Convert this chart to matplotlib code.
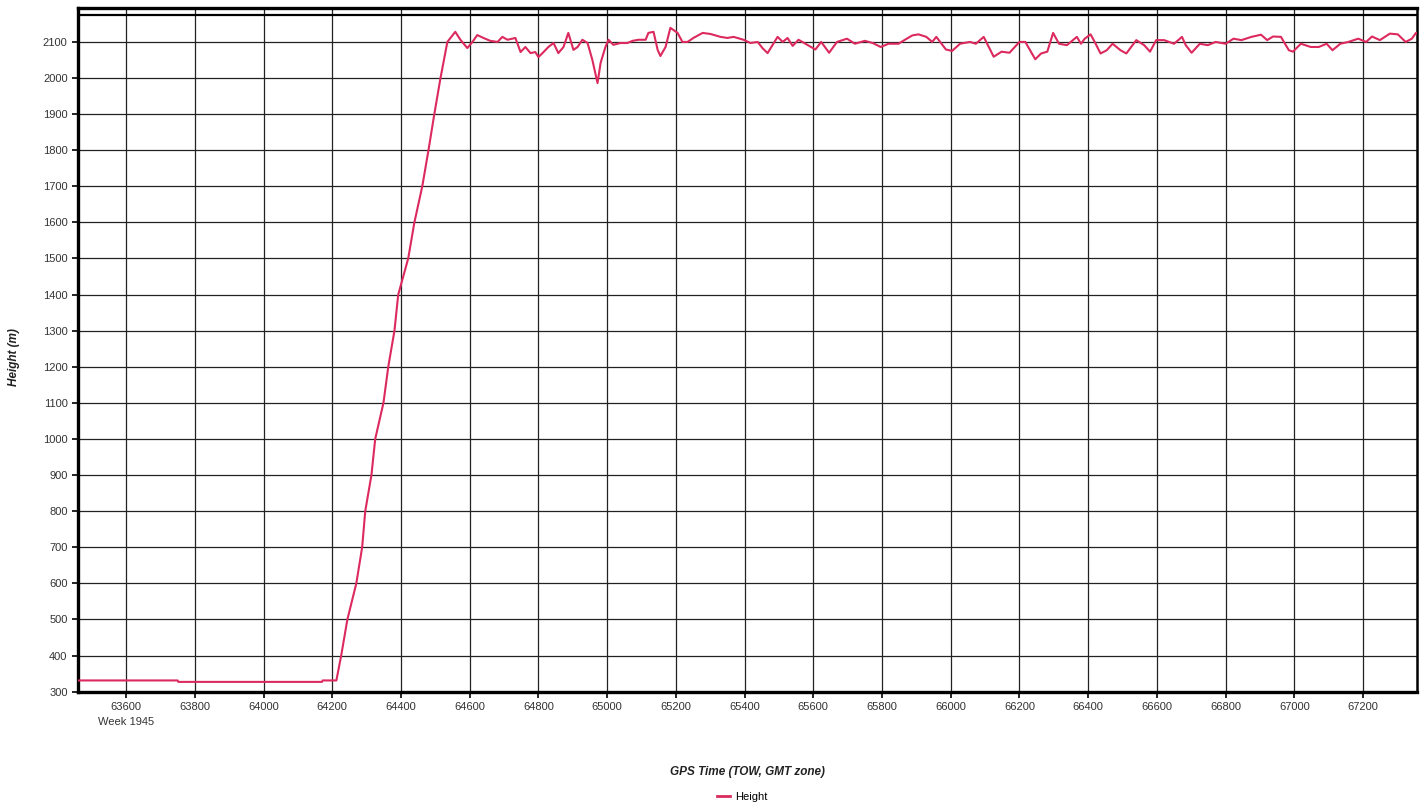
import matplotlib
matplotlib.use("Agg")
import matplotlib.pyplot as plt
import matplotlib.transforms as mtransforms
from matplotlib.lines import Line2D

# GPS time of week (s) and height (m)
tow = [63460, 63750, 63752, 64170, 64172, 64212, 64226, 64244, 64270, 64287,
       64296, 64314, 64325, 64349, 64363, 64381, 64392, 64421, 64439, 64462,
       64480, 64497, 64515, 64535, 64558, 64573, 64593, 64608, 64622, 64640,
       64660, 64681, 64695, 64710, 64733, 64748, 64762, 64777, 64791, 64800,
       64815, 64829, 64844, 64858, 64873, 64887, 64902, 64914, 64928, 64943,
       64957, 64972, 64981, 64995, 65004, 65018, 65039, 65059, 65074, 65091,
       65112, 65120, 65135, 65147, 65155, 65170, 65184, 65205, 65219, 65234,
       65251, 65278, 65301, 65330, 65350, 65368, 65397, 65417, 65438, 65452,
       65467, 65482, 65496, 65511, 65525, 65540, 65557, 65577, 65606, 65623,
       65646, 65669, 65698, 65721, 65750, 65773, 65796, 65819, 65848, 65865,
       65888, 65906, 65929, 65946, 65958, 65986, 66004, 66027, 66056, 66073,
       66096, 66125, 66148, 66171, 66200, 66217, 66246, 66263, 66281, 66298,
       66315, 66338, 66367, 66379, 66390, 66407, 66419, 66436, 66454, 66471,
       66494, 66511, 66540, 66563, 66580, 66598, 66621, 66650, 66673, 66684,
       66701, 66725, 66748, 66771, 66800, 66823, 66846, 66875, 66903, 66921,
       66938, 66961, 66984, 66996, 67019, 67048, 67071, 67094, 67111, 67134,
       67157, 67186, 67209, 67226, 67249, 67278, 67301, 67324, 67342, 67354,
       67365]
height = [331, 331, 327, 327, 331, 331, 400, 500, 600, 700,
          800, 900, 1000, 1100, 1200, 1300, 1400, 1500, 1600, 1700,
          1800, 1900, 2000, 2100, 2128, 2106, 2083, 2100, 2119, 2111,
          2103, 2100, 2114, 2106, 2111, 2072, 2086, 2069, 2072, 2058,
          2072, 2086, 2097, 2069, 2086, 2125, 2078, 2086, 2106, 2097,
          2050, 1986, 2042, 2086, 2106, 2092, 2097, 2097, 2103, 2106,
          2106, 2125, 2128, 2078, 2061, 2086, 2139, 2125, 2100, 2100,
          2111, 2125, 2122, 2114, 2111, 2114, 2106, 2097, 2100, 2083,
          2069, 2092, 2114, 2100, 2111, 2089, 2106, 2095, 2079, 2100,
          2070, 2100, 2109, 2095, 2103, 2097, 2086, 2095, 2095, 2105,
          2118, 2121, 2114, 2100, 2114, 2079, 2075, 2095, 2100, 2095,
          2114, 2059, 2073, 2070, 2100, 2100, 2052, 2068, 2073, 2125,
          2095, 2091, 2114, 2095, 2109, 2121, 2100, 2068, 2077, 2095,
          2077, 2068, 2105, 2091, 2073, 2105, 2105, 2095, 2114, 2091,
          2070, 2095, 2091, 2100, 2095, 2109, 2105, 2114, 2120, 2105,
          2115, 2114, 2077, 2073, 2095, 2086, 2086, 2095, 2077, 2095,
          2100, 2109, 2100, 2115, 2105, 2123, 2121, 2100, 2109, 2125,
          2120]

x_ticks = list(range(63600, 67201, 200))
y_ticks = list(range(300, 2101, 100))

plt.rcParams['font.family'] = ['Liberation Sans', 'DejaVu Sans']

fig = plt.figure(figsize=(14.22, 8.05), dpi=100)
ax = fig.add_axes([78 / 1422, 1 - 692 / 805, (1417 - 78) / 1422, (692 - 8) / 805])

line_color = '#dc2a5e'
ax.plot(tow, height, color=line_color, lw=1.5, zorder=3)

ax.set_xlim(63460, 67357)
ax.set_ylim(299, 2194)
ax.axhline(2175, color='black', lw=1.6, zorder=4)

ax.set_xticks(x_ticks)
ax.set_yticks(y_ticks)
ax.grid(True, color='#222222', lw=0.9)
ax.set_axisbelow(True)
ax.tick_params(axis='both', labelsize=8, labelcolor='#333333', color='black',
               length=4, width=1.2, direction='out')

for side in ['left', 'bottom', 'top']:
    ax.spines[side].set_linewidth(2.4)
ax.spines['right'].set_linewidth(1.8)

trans = mtransforms.blended_transform_factory(ax.transData, ax.transAxes)
ax.text(63600, -0.037, 'Week 1945', transform=trans, ha='center', va='top',
        fontsize=8, color='#333333')

# axis titles placed in figure coordinates
fig.text(747 / 1422, 1 - 772 / 805, 'GPS Time (TOW, GMT zone)', ha='center', va='center',
         fontsize=8.5, fontweight='bold', fontstyle='italic', color='#222222')
fig.text(14 / 1422, 1 - 357 / 805, 'Height (m)', ha='center', va='center', rotation=90,
         fontsize=8.5, fontweight='bold', fontstyle='italic', color='#222222')

handle = Line2D([], [], color=line_color, lw=2)
fig.legend([handle], ['Height'], loc='center', bbox_to_anchor=(742 / 1422, 1 - 797 / 805),
           frameon=False, fontsize=8, handlelength=1.2, handletextpad=0.4)

fig.savefig('out.png', dpi=100)
